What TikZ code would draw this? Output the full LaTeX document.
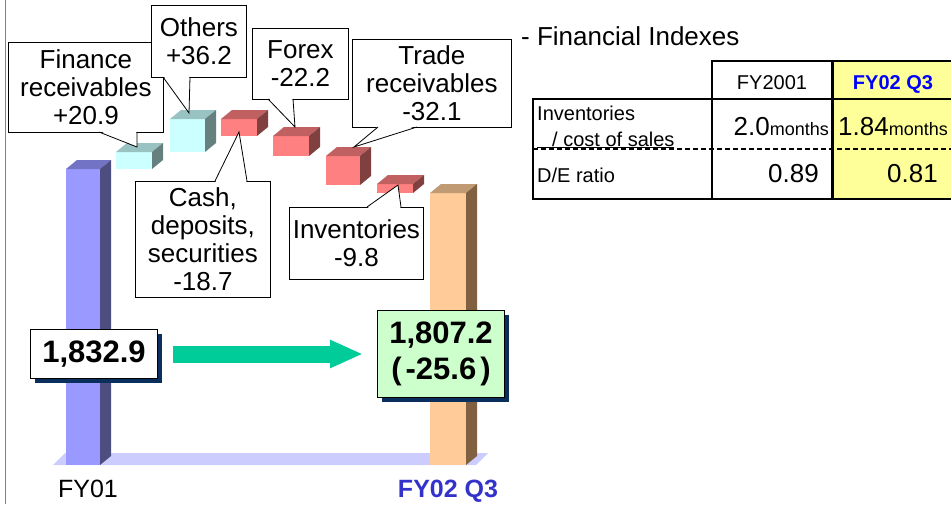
\documentclass[tikz,border=0pt]{standalone}
\usepackage{fontspec}
\setmainfont{Liberation Sans}
\usetikzlibrary{arrows.meta,calc,shadows}

\definecolor{barblue}{HTML}{9999FF}
\definecolor{barbluetop}{HTML}{7373C6}
\definecolor{barblueside}{HTML}{4D4D80}
\definecolor{barorange}{HTML}{FFCC99}
\definecolor{barorangetop}{HTML}{C09A73}
\definecolor{barorangeside}{HTML}{806040}
\definecolor{upcyan}{HTML}{CCFFFF}
\definecolor{upcyantop}{HTML}{99C2C2}
\definecolor{upcyanside}{HTML}{668080}
\definecolor{downred}{HTML}{FF8080}
\definecolor{downredtop}{HTML}{C06060}
\definecolor{downredside}{HTML}{804040}
\definecolor{floorblue}{HTML}{CCCCFF}
\definecolor{shadowblue}{HTML}{0A2F5C}
\definecolor{arrowgreen}{HTML}{00CC99}
\definecolor{totgreen}{HTML}{CCFFCC}
\definecolor{tabyellow}{HTML}{FFFF99}
\definecolor{labelblue}{HTML}{3333CC}

% 3D block: x1, ytop, x2, ybottom, front, top, side
\newcommand{\slab}[7]{%
  \fill[#5] (#1,#2) rectangle (#3,#4);
  \fill[#6] (#1,#2) -- ++(11,-9) -- ({#3+11},{#2-9}) -- (#3,#2) -- cycle;
  \fill[#7] (#3,#2) -- ++(11,-9) -- ({#3+11},{#4-9}) -- (#3,#4) -- cycle;
}
% callout wedge: base A, tip, base B, side of the box
\newcommand{\pin}[4]{%
  \fill[white] ($(#1)+(0.6,#4)$) -- (#2) -- ($(#3)+(-0.6,#4)$) -- cycle;
  \draw[line width=0.8pt] (#1) -- (#2) -- (#3);
}

\tikzset{
  callout/.style={draw, fill=white, line width=0.8pt, inner sep=0pt, anchor=north west,
    align=center, font=\fontsize{26}{28}\selectfont},
  total/.style={draw, line width=1pt, inner sep=0pt, anchor=north west, align=center,
    font=\bfseries\fontsize{31}{36}\selectfont,
    drop shadow={shadow xshift=4pt, shadow yshift=-4pt, fill=shadowblue, opacity=1}},
  flowarrow/.style={draw=arrowgreen, line width=17pt, -{Triangle[length=33pt,width=26pt]},
    shorten <=15pt, shorten >=14pt},
  tabline/.style={line width=2pt},
  tabtext/.style={inner sep=0pt, font=\fontsize{20}{24}\selectfont},
  tabnum/.style={inner sep=0pt, anchor=base east, font=\fontsize{26}{30}\selectfont},
}

\begin{document}
\begin{tikzpicture}[x=1pt,y=-1pt]
  \useasboundingbox (0,0) rectangle (951,504);
  \draw[gray, line width=1pt] (5,0) -- (5,504);

  % floor and the two totals
  \fill[floorblue] (53,465) -- (65,453) -- (488,453) -- (476,465) -- cycle;
  \slab{66}{169}{100}{465}{barblue}{barbluetop}{barblueside}
  \slab{430}{193}{466}{465}{barorange}{barorangetop}{barorangeside}

  % changes
  \slab{116}{152}{152}{169}{upcyan}{upcyantop}{upcyanside}
  \slab{170}{119}{205}{152}{upcyan}{upcyantop}{upcyanside}
  \slab{221}{119}{257}{136}{downred}{downredtop}{downredside}
  \slab{273}{136}{309}{156}{downred}{downredtop}{downredside}
  \slab{326}{156}{360}{185}{downred}{downredtop}{downredside}
  \slab{377}{184}{413}{193}{downred}{downredtop}{downredside}

  % callouts
  \node (fin) [callout, minimum width=155, minimum height=90] at (8,42)
    {Finance\\receivables\\+20.9};
  \coordinate (finA) at (99,132);
  \coordinate (finT) at (137,147);
  \coordinate (finB) at (137,132);
  \pin{finA}{finT}{finB}{-1}

  \node (oth) [callout, minimum width=95, minimum height=72] at (151,5)
    {Others\\+36.2};
  \coordinate (othA) at (163,77);
  \coordinate (othT) at (189,113);
  \coordinate (othB) at (190,77);
  \pin{othA}{othT}{othB}{-1}

  \node (forex) [callout, minimum width=96, minimum height=71] at (252,28)
    {Forex\\-22.2};
  \coordinate (forexA) at (268,99);
  \coordinate (forexT) at (295,127);
  \coordinate (forexB) at (293,99);
  \pin{forexA}{forexT}{forexB}{-1}

  \node (trade) [callout, minimum width=159, minimum height=88] at (352,39)
    {Trade\\receivables\\-32.1};
  \coordinate (tradeA) at (378,127);
  \coordinate (tradeT) at (354,147);
  \coordinate (tradeB) at (417,127);
  \pin{tradeA}{tradeT}{tradeB}{-1}

  \node (cash) [callout, minimum width=135, minimum height=116] at (135,181)
    {Cash,\\deposits,\\securities\\-18.7};
  \coordinate (cashA) at (215,181);
  \coordinate (cashT) at (239,132);
  \coordinate (cashB) at (247,181);
  \pin{cashA}{cashT}{cashB}{1}

  \node (inv) [callout, minimum width=134, minimum height=72] at (289,207)
    {Inventories\\-9.8};
  \coordinate (invA) at (367,207);
  \coordinate (invT) at (398,185);
  \coordinate (invB) at (401,207);
  \pin{invA}{invT}{invB}{1}

  % totals
  \node (tot01) [total, fill=white, minimum width=127, minimum height=49] at (30,329) {1,832.9};
  \node (tot02) [total, fill=totgreen, minimum width=127, minimum height=87] at (377,310)
    {1,807.2\\(\kern4pt-25.6\kern4pt)};
  \draw[flowarrow] (tot01) -- (tot02);

  \node (fy01) [inner sep=0pt, anchor=base, font=\fontsize{25}{30}\selectfont] at (88,497) {FY01};
  \node (fy02) [inner sep=0pt, anchor=base, text=labelblue, font=\bfseries\fontsize{25}{30}\selectfont]
    at (448,497) {FY02 Q3};

  % financial indexes
  \node (idx) [inner sep=0pt, anchor=base west, font=\fontsize{26}{30}\selectfont] at (521,45)
    {- Financial Indexes};
  \fill[tabyellow] (832,61) rectangle (960,199);
  \draw[tabline] (712,99) -- (712,61) -- (960,61);
  \draw[tabline] (533,99) rectangle (960,199);
  \draw[tabline] (712,99) -- (712,199);
  \draw[line width=3pt] (832,61) -- (832,199);
  \draw[line width=2.5pt, dash pattern=on 5pt off 3pt] (533,149) -- (960,149);

  \node (h01) [tabtext, anchor=base] at (772,89) {FY2001};
  \node (h02) [tabtext, anchor=base, text=blue, font=\bfseries\fontsize{20}{24}\selectfont] at (893,89) {FY02 Q3};
  \node (r1a) [tabtext, anchor=base west] at (537,120) {Inventories};
  \node (r1b) [tabtext, anchor=base west] at (537,146) {\underline{\hspace{15pt}/ cost of sales}};
  \node (r2) [tabtext, anchor=base west] at (537,182) {D/E ratio};
  \node (v11) [tabnum] at (829,135) {2.0{\fontsize{18}{20}\selectfont months}};
  \node (v12) [tabnum] at (948,135) {1.84{\fontsize{18}{20}\selectfont months}};
  \node (v21) [tabnum] at (819,182) {0.89};
  \node (v22) [tabnum] at (938,182) {0.81};
\end{tikzpicture}
\end{document}
